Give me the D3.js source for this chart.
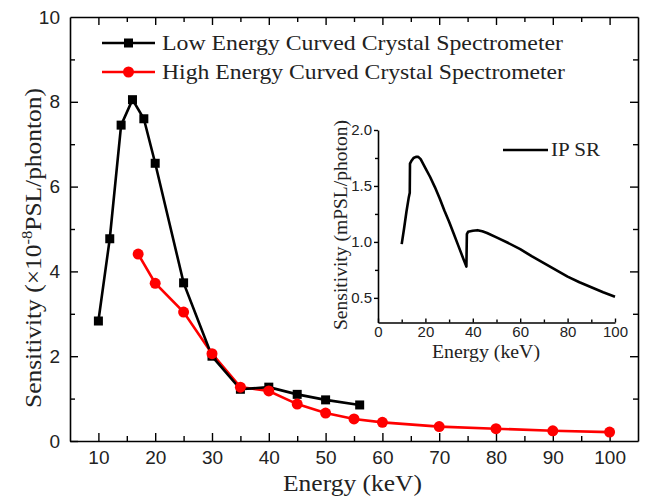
<!DOCTYPE html>
<html>
<head>
<meta charset="utf-8">
<script src="https://cdn.jsdelivr.net/npm/d3@7"></script>
<style>
  body { margin: 0; background: #fff; }
  .tick text { font-family: "Liberation Sans", Arial, sans-serif; }
  .domain { stroke: #000; }
</style>
</head>
<body>
<svg id="chart" width="646" height="499"></svg>
<script>
// low energy spectrometer (black squares)
const lowEnergy = [10, 12, 14, 16, 18, 20, 25, 30, 35, 40, 45, 50, 56];
const lowSens = [2.83, 4.77, 7.45, 8.05, 7.6, 6.55, 3.73, 2.0, 1.22, 1.27, 1.1, 0.97, 0.85];

// high energy spectrometer (red circles)
const highEnergy = [17, 20, 25, 30, 35, 40, 45, 50, 55, 60, 70, 80, 90, 100];
const highSens = [4.41, 3.72, 3.04, 2.06, 1.27, 1.18, 0.87, 0.66, 0.52, 0.44, 0.34, 0.29, 0.24, 0.21];

// inset: IP sensitivity response
const ipEnergy = [10, 11, 12, 13, 13.4, 13.5, 14, 15, 16, 17, 18, 20, 22, 24, 26, 28, 30, 32, 34, 36, 37.3,
                  37.5, 38, 40, 42, 44, 46, 50, 55, 60, 65, 70, 75, 80, 85, 90, 95, 100];
const ipSens = [0.98, 1.12, 1.27, 1.40, 1.44, 1.70, 1.72, 1.75, 1.76, 1.76, 1.74, 1.66, 1.58, 1.49, 1.39, 1.28, 1.18, 1.07, 0.96, 0.85, 0.78,
                1.07, 1.09, 1.10, 1.105, 1.095, 1.08, 1.04, 0.99, 0.935, 0.87, 0.81, 0.75, 0.69, 0.64, 0.595, 0.55, 0.51];

const xTicks = [10, 20, 30, 40, 50, 60, 70, 80, 90, 100];
const xMinor = [15, 25, 35, 45, 55, 65, 75, 85, 95];
const yTicks = [0, 2, 4, 6, 8, 10];
const yMinor = [1, 3, 5, 7, 9];
const insetXTicks = [0, 20, 40, 60, 80, 100];
const insetXMinor = [10, 30, 50, 70, 90];
const insetYTicks = [0.5, 1.0, 1.5, 2.0];
const insetYMinor = [0.75, 1.25, 1.75];

const svg = d3.select("#chart");
const serif = "'Liberation Serif', 'Times New Roman', serif";

// main plot frame
const plotLeft = 70, plotRight = 638, plotTop = 17, plotBottom = 441;
const x = d3.scaleLinear().domain([5, 105]).range([plotLeft, plotRight]);
const y = d3.scaleLinear().domain([0, 10]).range([plotBottom, plotTop]);

function styleAxis(g, fs) {
    g.select(".domain").attr("stroke-width", 1.6);
    g.selectAll(".tick line").attr("stroke", "#000").attr("stroke-width", 1.4);
    g.selectAll(".tick text").attr("font-size", fs).attr("fill", "#222");
}

// minor ticks first so major ones draw on top
svg.append("g").attr("transform", `translate(0,${plotBottom})`)
    .call(d3.axisBottom(x).tickValues(xMinor).tickSize(-5).tickFormat(""))
    .call(g => { g.select(".domain").remove(); styleAxis(g, 0); });
svg.append("g").attr("transform", `translate(0,${plotTop})`)
    .call(d3.axisTop(x).tickValues(xMinor).tickSize(-5).tickFormat(""))
    .call(g => { g.select(".domain").remove(); styleAxis(g, 0); });
svg.append("g").attr("transform", `translate(${plotLeft},0)`)
    .call(d3.axisLeft(y).tickValues(yMinor).tickSize(-5).tickFormat(""))
    .call(g => { g.select(".domain").remove(); styleAxis(g, 0); });
svg.append("g").attr("transform", `translate(${plotRight},0)`)
    .call(d3.axisRight(y).tickValues(yMinor).tickSize(-5).tickFormat(""))
    .call(g => { g.select(".domain").remove(); styleAxis(g, 0); });

svg.append("g").attr("transform", `translate(0,${plotBottom})`)
    .call(d3.axisBottom(x).tickValues(xTicks).tickSize(-8).tickSizeOuter(0).tickPadding(10))
    .call(g => styleAxis(g, 19));
svg.append("g").attr("transform", `translate(0,${plotTop})`)
    .call(d3.axisTop(x).tickValues(xTicks).tickSize(-8).tickSizeOuter(0).tickFormat(""))
    .call(g => styleAxis(g, 0));
svg.append("g").attr("transform", `translate(${plotLeft},0)`)
    .call(d3.axisLeft(y).tickValues(yTicks.slice(0, 5)).tickSize(-8).tickSizeOuter(0).tickPadding(10))
    .call(g => styleAxis(g, 19));
// "10" label at the very top without an inner tick
svg.append("g").attr("transform", `translate(${plotLeft},0)`)
    .call(d3.axisLeft(y).tickValues([10]).tickSize(0).tickSizeOuter(0).tickPadding(10))
    .call(g => { g.select(".domain").remove(); styleAxis(g, 19); });
svg.append("g").attr("transform", `translate(${plotRight},0)`)
    .call(d3.axisRight(y).tickValues(yTicks.slice(1, 5)).tickSize(-8).tickSizeOuter(0).tickFormat(""))
    .call(g => styleAxis(g, 0));

// axis titles (the source figure is a bit wider than the installed serif, so stretch)
svg.append("text")
    .attr("x", 352.5).attr("y", 491)
    .attr("text-anchor", "middle")
    .attr("font-family", serif).attr("font-size", 23).attr("fill", "#222")
    .attr("textLength", 139).attr("lengthAdjust", "spacingAndGlyphs")
    .text("Energy (keV)");

const yTitle = svg.append("text")
    .attr("transform", "translate(41,248) rotate(-90)")
    .attr("text-anchor", "middle")
    .attr("font-family", serif).attr("font-size", 23).attr("fill", "#222")
    .attr("textLength", 320).attr("lengthAdjust", "spacingAndGlyphs");
yTitle.append("tspan").text("Sensitivity (×10");
yTitle.append("tspan").attr("font-size", 15).attr("dy", -9).text("-8");
yTitle.append("tspan").attr("dy", 9).text("PSL/phonton)");

// series
const lowData = lowEnergy.map((e, i) => ({ e, s: lowSens[i] }));
const highData = highEnergy.map((e, i) => ({ e, s: highSens[i] }));
const line = d3.line().x(d => x(d.e)).y(d => y(d.s));

svg.append("path").datum(highData)
    .attr("d", line).attr("fill", "none")
    .attr("stroke", "#ff0000").attr("stroke-width", 2.6);
svg.append("path").datum(lowData)
    .attr("d", line).attr("fill", "none")
    .attr("stroke", "#000").attr("stroke-width", 2.6);

svg.selectAll(".sq").data(lowData).enter().append("rect")
    .attr("class", "sq")
    .attr("x", d => x(d.e) - 4.5).attr("y", d => y(d.s) - 4.5)
    .attr("width", 9).attr("height", 9)
    .attr("fill", "#000");
svg.selectAll(".dot").data(highData).enter().append("circle")
    .attr("class", "dot")
    .attr("cx", d => x(d.e)).attr("cy", d => y(d.s))
    .attr("r", 5.5)
    .attr("fill", "#ff0000");

// legend
const legend = [
    { label: "Low Energy Curved Crystal Spectrometer", color: "#000", marker: "square", y: 43, w: 401 },
    { label: "High Energy Curved Crystal Spectrometer", color: "#ff0000", marker: "circle", y: 72, w: 403 }
];
legend.forEach(l => {
    svg.append("line")
        .attr("x1", 102).attr("x2", 155).attr("y1", l.y).attr("y2", l.y)
        .attr("stroke", l.color).attr("stroke-width", 2.6);
    if (l.marker === "square") {
        svg.append("rect").attr("x", 124).attr("y", l.y - 4.5)
            .attr("width", 9).attr("height", 9).attr("fill", l.color);
    } else {
        svg.append("circle").attr("cx", 128.5).attr("cy", l.y).attr("r", 5.5).attr("fill", l.color);
    }
    svg.append("text")
        .attr("x", 162).attr("y", l.y + 7)
        .attr("font-family", serif).attr("font-size", 22).attr("fill", "#222")
        .attr("textLength", l.w).attr("lengthAdjust", "spacingAndGlyphs")
        .text(l.label);
});

// inset
const ix = d3.scaleLinear().domain([0, 100]).range([378, 615]);
const iy = d3.scaleLinear().domain([0.28, 2.0]).range([322.5, 130]);

svg.append("g").attr("transform", "translate(0,322.5)")
    .call(d3.axisBottom(ix).tickValues(insetXMinor).tickSize(-3).tickFormat(""))
    .call(g => { g.select(".domain").remove(); styleAxis(g, 0); });
svg.append("g").attr("transform", "translate(378,0)")
    .call(d3.axisLeft(iy).tickValues(insetYMinor).tickSize(3).tickFormat(""))
    .call(g => { g.select(".domain").remove(); styleAxis(g, 0); });
svg.append("g").attr("transform", "translate(0,322.5)")
    .call(d3.axisBottom(ix).tickValues(insetXTicks).tickSize(-4).tickSizeOuter(0).tickPadding(4))
    .call(g => styleAxis(g, 15));
svg.append("g").attr("transform", "translate(378,0)")
    .call(d3.axisLeft(iy).tickValues(insetYTicks).tickSize(4).tickSizeOuter(0).tickPadding(2).tickFormat(d3.format(".1f")))
    .call(g => styleAxis(g, 15));

const ipData = ipEnergy.map((e, i) => ({ e, s: ipSens[i] }));
svg.append("path").datum(ipData)
    .attr("d", d3.line().x(d => ix(d.e)).y(d => iy(d.s)))
    .attr("fill", "none").attr("stroke", "#000")
    .attr("stroke-width", 2.6).attr("stroke-linejoin", "round");

svg.append("line")
    .attr("x1", 503).attr("x2", 548).attr("y1", 150).attr("y2", 150)
    .attr("stroke", "#000").attr("stroke-width", 2.6);
svg.append("text")
    .attr("x", 551).attr("y", 156)
    .attr("font-family", serif).attr("font-size", 18).attr("fill", "#222")
    .attr("textLength", 49).attr("lengthAdjust", "spacingAndGlyphs")
    .text("IP SR");

svg.append("text")
    .attr("x", 486).attr("y", 358)
    .attr("text-anchor", "middle")
    .attr("font-family", serif).attr("font-size", 18).attr("fill", "#222")
    .attr("textLength", 108).attr("lengthAdjust", "spacingAndGlyphs")
    .text("Energy (keV)");
svg.append("text")
    .attr("transform", "translate(347,225) rotate(-90)")
    .attr("text-anchor", "middle")
    .attr("font-family", serif).attr("font-size", 18).attr("fill", "#222")
    .attr("textLength", 210).attr("lengthAdjust", "spacingAndGlyphs")
    .text("Sensitivity (mPSL/photon)");
</script>
</body>
</html>
